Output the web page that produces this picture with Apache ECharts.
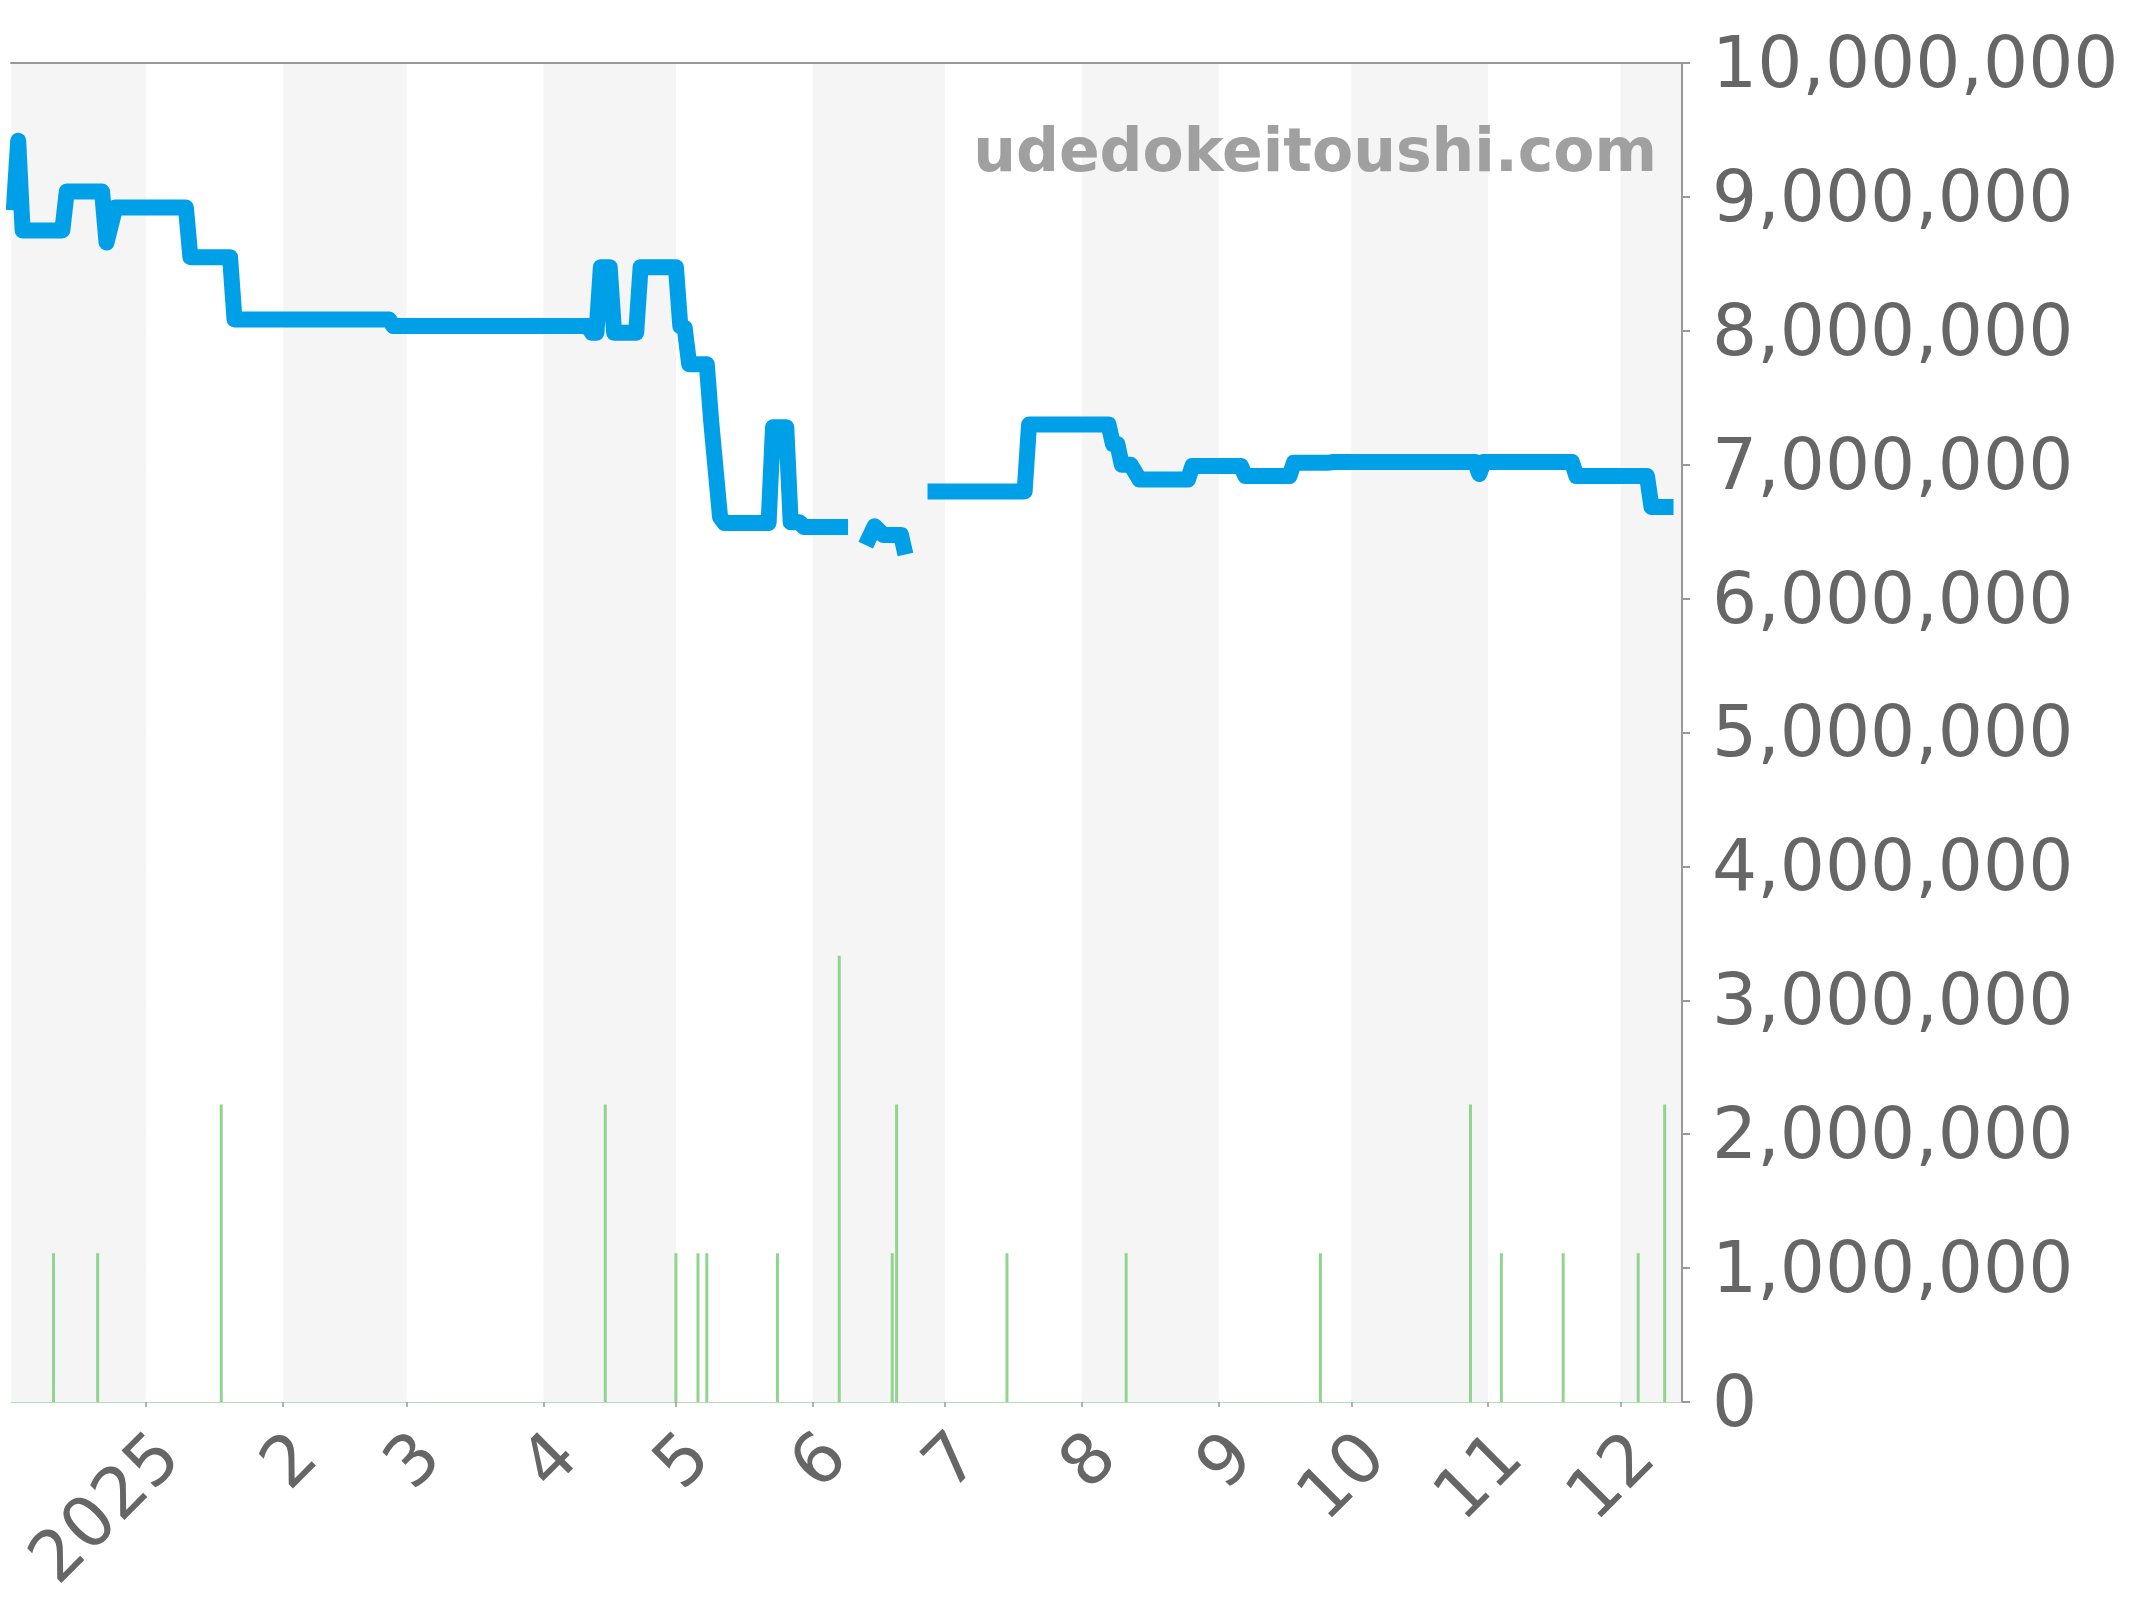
<!DOCTYPE html>
<html>
<head>
<meta charset="utf-8">
<script src="https://cdn.jsdelivr.net/npm/echarts@6/dist/echarts.min.js"></script>
<style>html,body{margin:0;padding:0;background:#fff}#c{width:2144px;height:1600px}</style>
</head>
<body>
<div id="c"></div>
<script>
// ---- data ----
const priceDates = [
  '2024-12-02','2024-12-03','2024-12-04','2024-12-13','2024-12-14','2024-12-22','2024-12-23','2024-12-25',
  '2025-01-10','2025-01-11','2025-01-20','2025-01-21','2025-02-25','2025-02-26',
  '2025-04-11','2025-04-12','2025-04-13','2025-04-14','2025-04-16','2025-04-17','2025-04-22','2025-04-23',
  '2025-05-01','2025-05-02','2025-05-03','2025-05-04','2025-05-08','2025-05-09','2025-05-11','2025-05-12',
  '2025-05-22','2025-05-23','2025-05-26','2025-05-27','2025-05-29','2025-05-30','2025-06-09',
  '2025-06-11',
  '2025-06-13','2025-06-15','2025-06-17','2025-06-21','2025-06-22',
  '2025-06-24',
  '2025-06-27','2025-07-19','2025-07-20','2025-08-07','2025-08-08','2025-08-09','2025-08-10','2025-08-12','2025-08-14',
  '2025-08-25','2025-08-26','2025-09-06','2025-09-07','2025-09-17','2025-09-18','2025-09-26','2025-09-27',
  '2025-10-29','2025-10-30','2025-10-31','2025-11-20','2025-11-21','2025-12-07','2025-12-08','2025-12-13'
];
const priceValues = [
  8900000,9420000,8750000,8750000,9040000,9040000,8660000,8920000,
  8920000,8550000,8550000,8085000,8085000,8035000,
  8035000,7985000,7985000,8475000,8475000,7985000,7985000,8475000,
  8475000,8035000,8020000,7750000,7750000,7320000,6610000,6565000,
  6565000,7280000,7280000,6570000,6570000,6535000,6535000,
  null,
  6400000,6540000,6475000,6475000,6330000,
  null,
  6800000,6800000,7300000,7300000,7155000,7155000,7000000,7000000,6890000,
  6890000,6990000,6990000,6915000,6915000,7015000,7015000,7020000,
  7020000,6930000,7020000,7020000,6915000,6915000,6685000,6685000
];
const salesDates = [
  '2024-12-11','2024-12-21','2025-01-18','2025-04-15','2025-05-01','2025-05-06','2025-05-08','2025-05-24',
  '2025-06-07','2025-06-19','2025-06-20','2025-07-15','2025-08-11','2025-09-24','2025-10-28','2025-11-04',
  '2025-11-18','2025-12-05','2025-12-11'
];
const salesCounts = [1,1,2,2,1,1,1,1,3,1,2,1,1,1,2,1,1,1,2];
const monthLabels = ['2025','2','3','4','5','6','7','8','9','10','11','12'];
const watermark = 'udedokeitoushi.com';

// ---- chart ----
const DAY = 86400000;
const xMin = new Date(2024, 11, 1, 17).getTime();
const xMax = new Date(2025, 11, 14, 14).getTime();
const addCommas = v => String(v).replace(/\B(?=(\d{3})+(?!\d))/g, ',');

const chart = echarts.init(document.getElementById('c'), null, {renderer: 'canvas', width: 2144, height: 1600});
chart.setOption({
  animation: false,
  backgroundColor: '#ffffff',
  grid: {left: 11, right: 462, top: 63, bottom: 198, containLabel: false, outerBoundsMode: 'none'},
  xAxis: [{
    type: 'time', min: xMin, max: xMax,
    minInterval: 32 * DAY, maxInterval: 32 * DAY, splitNumber: 12,
    axisLine: {show: true, onZero: false, lineStyle: {color: '#a9dca9', type: 'dotted', width: 1}},
    axisTick: {show: true, length: 5, lineStyle: {color: '#999999', width: 1.5}},
    axisLabel: {
      rotate: 45, align: 'right', verticalAlign: 'top', margin: 21,
      fontSize: 70, fontFamily: 'DejaVu Sans', color: '#666666',
      showMinLabel: false, showMaxLabel: false,
      formatter: v => monthLabels[new Date(v).getMonth()]
    },
    splitLine: {show: false},
    splitArea: {show: true, areaStyle: {color: ['#f5f5f5', '#ffffff']}}
  }, {
    type: 'time', min: xMin, max: xMax, position: 'top',
    axisLine: {show: true, onZero: false, lineStyle: {color: '#999999', width: 2}},
    axisTick: {show: false}, axisLabel: {show: false}, splitLine: {show: false}, splitArea: {show: false}
  }],
  yAxis: [{
    type: 'value', position: 'right', min: 0, max: 10000000, interval: 1000000,
    axisLine: {show: true, lineStyle: {color: '#999999', width: 2}},
    axisTick: {show: true, length: 8, lineStyle: {color: '#999999', width: 2}},
    axisLabel: {margin: 30, verticalAlign: 'top', lineHeight: 11, fontSize: 71, fontFamily: 'DejaVu Sans', color: '#666666',
                formatter: v => addCommas(v)},
    splitLine: {show: true, lineStyle: {color: '#e3e3e3', width: 1}}
  }, {
    type: 'value', min: 0, max: 9, show: false, splitLine: {show: false}
  }],
  series: [{
    type: 'bar', xAxisIndex: 0, yAxisIndex: 1, barWidth: 3,
    data: salesDates.map((d, i) => [d, salesCounts[i]]),
    itemStyle: {color: '#8fd48f'}, z: 2
  }, {
    type: 'line', xAxisIndex: 0, yAxisIndex: 0,
    data: priceDates.map((d, i) => [d, priceValues[i]]),
    showSymbol: false, connectNulls: false,
    lineStyle: {color: '#00a0e9', width: 16, join: 'round', cap: 'butt'}, z: 3
  }],
  graphic: [{
    type: 'text', x: 1657, y: 155, z: 10,
    style: {text: watermark, fontSize: 60, fontWeight: 'bold', fontFamily: 'DejaVu Sans',
            fill: '#a0a0a0', align: 'right', verticalAlign: 'middle'}
  }]
});
</script>
</body>
</html>
